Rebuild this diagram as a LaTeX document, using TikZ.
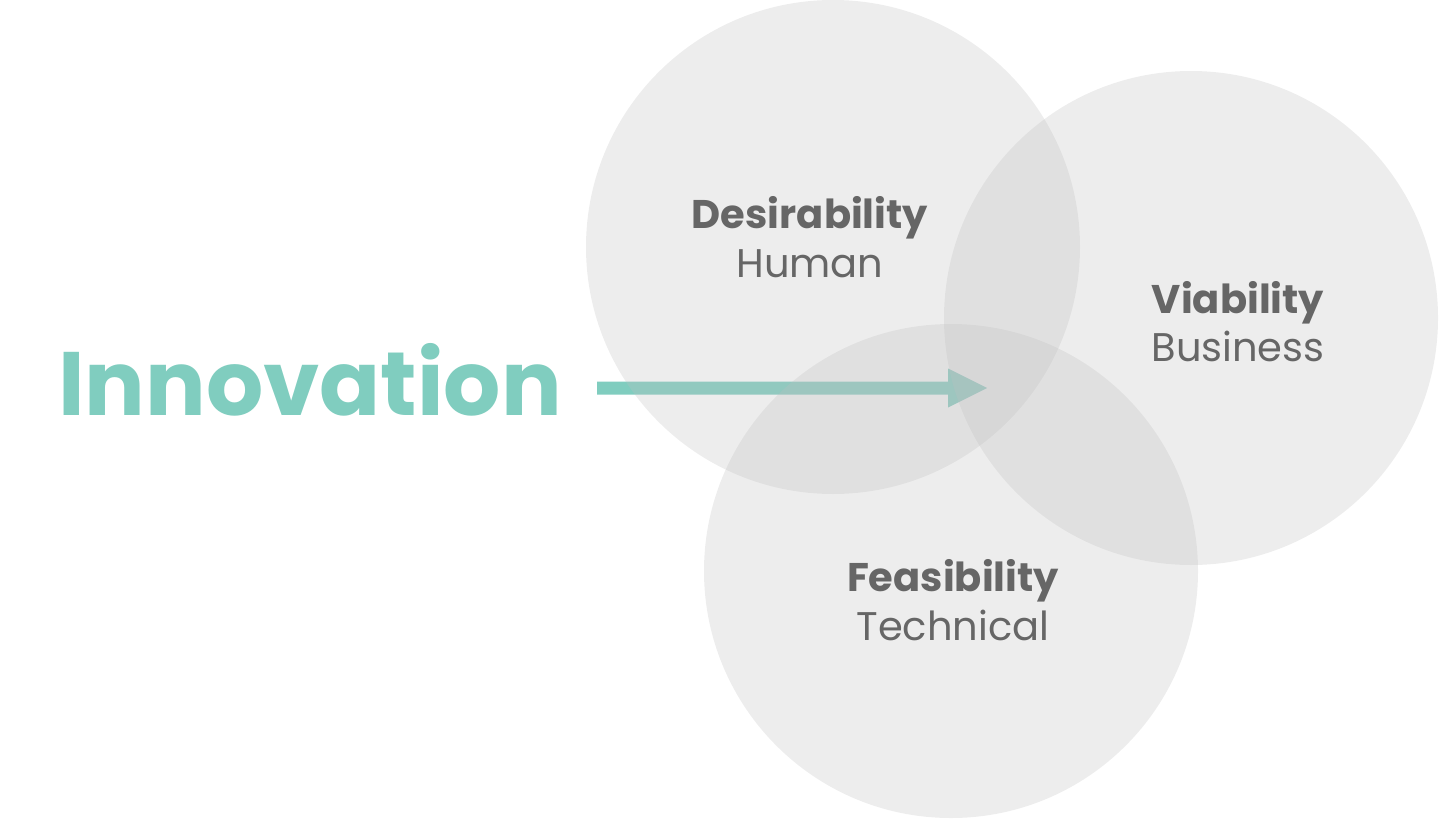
\documentclass[tikz,border=0pt]{standalone}
\usepackage{fontspec}
\setmainfont{Poppins}
\definecolor{mint}{RGB}{128,205,191}
\definecolor{labelgray}{RGB}{102,102,102}
\definecolor{discgray}{RGB}{191,191,191}
\begin{document}
\begin{tikzpicture}[x=1pt,y=-1pt,
  disc/.style={fill=discgray, fill opacity=0.28},
  title/.style={anchor=base, text=labelgray, font=\bfseries\fontsize{40}{40}\selectfont, inner sep=0pt},
  subtitle/.style={anchor=base, text=labelgray, font=\fontsize{40}{40}\selectfont, inner sep=0pt}]
\useasboundingbox (0,0) rectangle (1440,819);

% headline
\node[anchor=base west, text=mint, inner sep=0pt,
      font=\bfseries\fontsize{90}{90}\selectfont] (innov) at (58,415) {Innovation};

% arrow, drawn beneath the translucent discs
\coordinate (tail) at (597,388);
\coordinate (tip) at (987,388);
\fill[mint] ([yshift=-6.5pt]tail) -- ([xshift=-39pt,yshift=-6.5pt]tip)
  -- ([xshift=-39pt,yshift=-19.5pt]tip) -- (tip)
  -- ([xshift=-39pt,yshift=19.5pt]tip) -- ([xshift=-39pt,yshift=6.5pt]tip)
  -- ([yshift=6.5pt]tail) -- cycle;

% three overlapping discs
\fill[disc] (833,247) circle [radius=247pt];
\fill[disc] (1191,318) circle [radius=247pt];
\fill[disc] (951,571) circle [radius=247pt];

% labels
\node[title] (des) at (810,228) {Desirability};
\node[subtitle] (hum) at (810,277) {Human};
\node[title] (via) at (1238,313) {Viability};
\node[subtitle] (bus) at (1238,361) {Business};
\node[title] (fea) at (953,591) {Feasibility};
\node[subtitle] (tec) at (953,640) {Technical};
\end{tikzpicture}
\end{document}
